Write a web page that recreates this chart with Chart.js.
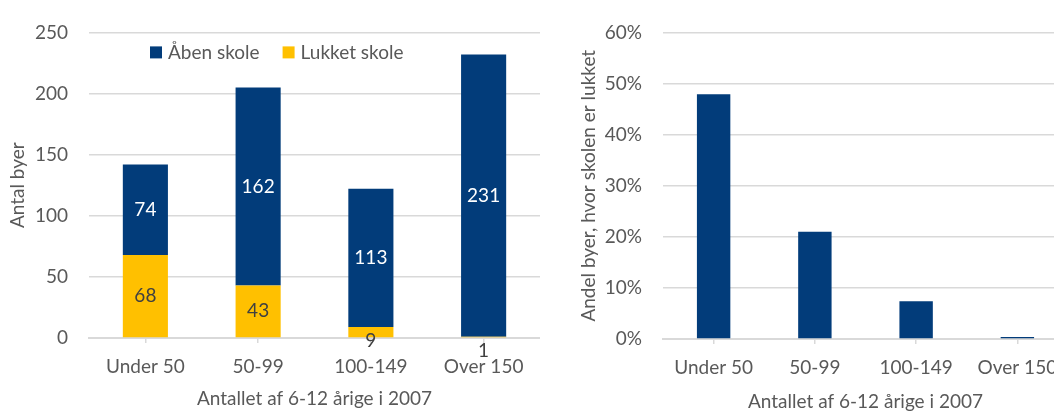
<!DOCTYPE html>
<html>
<head>
<meta charset="utf-8">
<script src="https://cdn.jsdelivr.net/npm/chart.js@4"></script>
<style>
  html, body { margin: 0; padding: 0; background: #fff; }
  body { width: 1054px; height: 411px; overflow: hidden; position: relative; }
  #left { position: absolute; left: 0; top: 0; }
  #right { position: absolute; left: 540px; top: 0; }
</style>
</head>
<body>
<canvas id="left" width="540" height="411"></canvas>
<canvas id="right" width="540" height="411"></canvas>
<script>
// categories and values
var categories = ['Under 50', '50-99', '100-149', 'Over 150'];
var openSchool = [74, 162, 113, 231];     // Åben skole
var closedSchool = [68, 43, 9, 1];        // Lukket skole
var shareClosed = [47.9, 21.0, 7.4, 0.4]; // Andel byer, hvor skolen er lukket (%)
var countTicks = [0, 50, 100, 150, 200, 250];
var shareTicks = [0, 10, 20, 30, 40, 50, 60];

var BLUE = '#023c7a';
var YELLOW = '#ffc000';
var TEXT = '#595959';
var GRID = '#d9d9d9';
var FONT = 'Lato';
var SIZE = 19;

Chart.defaults.font.family = FONT;
Chart.defaults.font.size = SIZE;
Chart.defaults.color = TEXT;

// numbers inside / under the stacked bars
var valueLabels = {
    id: 'valueLabels',
    afterDatasetsDraw: function (chart) {
        var ctx = chart.ctx;
        ctx.save();
        ctx.font = SIZE + 'px ' + FONT;
        ctx.textAlign = 'center';
        ctx.textBaseline = 'middle';
        chart.data.datasets.forEach(function (ds, di) {
            var meta = chart.getDatasetMeta(di);
            meta.data.forEach(function (bar, i) {
                var v = ds.data[i];
                var p = bar.getProps(['x', 'y', 'base'], true);
                var y = (p.y + p.base) / 2;
                if (v < 20) {
                    y = p.y + 14;
                    ctx.fillStyle = '#404040';
                } else {
                    ctx.fillStyle = ds.labelColor;
                }
                ctx.fillText(String(v), p.x, y);
            });
        });
        ctx.restore();
    }
};

// legend drawn inside the plot area, like the original
var innerLegend = {
    id: 'innerLegend',
    afterDraw: function (chart) {
        var ctx = chart.ctx;
        var area = chart.chartArea;
        var x = area.left + 61;
        var y = area.top + 20;
        ctx.save();
        ctx.font = SIZE + 'px ' + FONT;
        ctx.textBaseline = 'middle';
        ctx.textAlign = 'left';
        // legend order in the picture: Åben skole, Lukket skole
        [1, 0].forEach(function (di) {
            var ds = chart.data.datasets[di];
            ctx.fillStyle = ds.backgroundColor;
            ctx.fillRect(x, y - 6, 12, 12);
            ctx.fillStyle = TEXT;
            ctx.fillText(ds.label, x + 18, y);
            x += 18 + ctx.measureText(ds.label).width + 23;
        });
        ctx.restore();
    }
};

new Chart(document.getElementById('left'), {
    type: 'bar',
    data: {
        labels: categories,
        datasets: [
            {
                label: 'Lukket skole',
                data: closedSchool,
                backgroundColor: YELLOW,
                labelColor: '#404040',
                barPercentage: 0.4,
                categoryPercentage: 1
            },
            {
                label: 'Åben skole',
                data: openSchool,
                backgroundColor: BLUE,
                labelColor: '#ffffff',
                barPercentage: 0.4,
                categoryPercentage: 1
            }
        ]
    },
    options: {
        responsive: false,
        animation: false,
        layout: { padding: { top: 22, right: 0, bottom: 0, left: 0 } },
        plugins: {
            legend: { display: false },
            tooltip: { enabled: false }
        },
        scales: {
            x: {
                stacked: true,
                afterFit: function (s) { s.height = 73; },
                grid: { drawOnChartArea: false, offset: false, color: GRID, lineWidth: 1.5, tickLength: 5 },
                border: { color: GRID, width: 2 },
                ticks: { padding: 12, color: TEXT },
                title: { display: true, text: 'Antallet af 6-12 årige i 2007', color: TEXT, padding: { top: 0, bottom: 1 } }
            },
            y: {
                stacked: true,
                min: countTicks[0],
                max: countTicks[countTicks.length - 1],
                afterFit: function (s) { s.width = 89; },
                afterBuildTicks: function (s) {
                    s.ticks = countTicks.map(function (v) { return { value: v }; });
                },
                grid: { color: GRID, lineWidth: 1.5, drawTicks: false },
                border: { display: false },
                ticks: { padding: 21, color: TEXT },
                title: { display: true, text: 'Antal byer', color: TEXT, padding: { top: 6, bottom: 0 } }
            }
        }
    },
    plugins: [valueLabels, innerLegend]
});

new Chart(document.getElementById('right'), {
    type: 'bar',
    data: {
        labels: categories,
        datasets: [{
            label: 'Andel byer, hvor skolen er lukket',
            data: shareClosed,
            backgroundColor: BLUE,
            barPercentage: 0.33,
            categoryPercentage: 1
        }]
    },
    options: {
        responsive: false,
        animation: false,
        layout: { padding: { top: 24, right: 12, bottom: 0, left: 0 } },
        plugins: {
            legend: { display: false },
            tooltip: { enabled: false }
        },
        scales: {
            x: {
                afterFit: function (s) { s.height = 72; },
                grid: { drawOnChartArea: false, offset: false, color: GRID, lineWidth: 1.5, tickLength: 5 },
                border: { color: GRID, width: 2 },
                ticks: { padding: 12, color: TEXT },
                title: { display: true, text: 'Antallet af 6-12 årige i 2007', color: TEXT, padding: { top: 0, bottom: -2 } }
            },
            y: {
                min: shareTicks[0],
                max: shareTicks[shareTicks.length - 1],
                afterFit: function (s) { s.width = 123; },
                afterBuildTicks: function (s) {
                    s.ticks = shareTicks.map(function (v) { return { value: v }; });
                },
                grid: { color: GRID, lineWidth: 1.5, drawTicks: false },
                border: { display: false },
                ticks: {
                    padding: 21,
                    color: TEXT,
                    callback: function (value) { return value + '%'; }
                },
                title: { display: true, text: 'Andel byer, hvor skolen er lukket', color: TEXT, padding: { top: 37, bottom: 0 } }
            }
        }
    }
});
</script>
</body>
</html>
